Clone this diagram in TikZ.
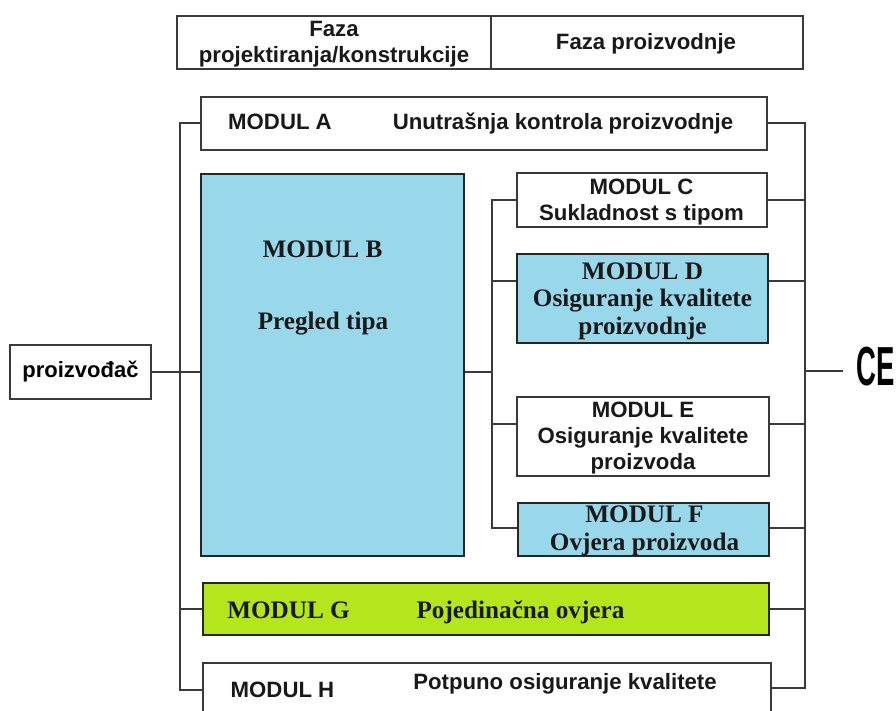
\documentclass[tikz,border=0pt]{standalone}
\usepackage{graphicx}
\usepackage{fontspec}
\setmainfont{Liberation Sans}
\newfontfamily\serifbold{Liberation Serif}[BoldFont={Liberation Serif Bold}]
\definecolor{modblue}{HTML}{99D7EA}
\definecolor{modgreen}{HTML}{B5E61D}
\definecolor{linegray}{HTML}{3A3A3A}
\begin{document}
\begin{tikzpicture}[x=1pt, y=-1pt, line width=1.2pt, draw=linegray,
  plainbox/.style={rectangle, draw=linegray, fill=white, inner sep=0pt, line width=1.2pt},
  bluebox/.style={rectangle, draw=black!85, fill=modblue, inner sep=0pt, line width=1.4pt},
  greenbox/.style={rectangle, draw=black!85, fill=modgreen, inner sep=0pt, line width=1.4pt},
  sanslabel/.style={inner sep=0pt, align=center, text=black!90, font=\fontsize{22.2}{26}\selectfont\bfseries},
  seriflabel/.style={inner sep=0pt, align=center, text=black!90, font=\fontsize{25.2}{27.5}\selectfont\serifbold\bfseries}]
\useasboundingbox (0,0) rectangle (896,711);

% header
\node (head1) [plainbox, minimum width=314pt, minimum height=53pt] at (334,42.5) {};
\node (head2) [plainbox, minimum width=312pt, minimum height=53pt] at (647,42.5) {};
\node [sanslabel] at (334,44) {Faza\\projektiranja/konstrukcije};
\node [sanslabel] at (646,44) {Faza proizvodnje};

% modules
\node (modA) [plainbox, minimum width=566pt, minimum height=53pt] at (484,123.5) {};
\node (modB) [bluebox, minimum width=263pt, minimum height=382pt] at (332.5,365) {};
\node (modC) [plainbox, minimum width=250pt, minimum height=54pt] at (642,200) {};
\node (modD) [bluebox, minimum width=251pt, minimum height=89pt, line width=1.8pt] at (642.5,298.5) {};
\node (modE) [plainbox, minimum width=252pt, minimum height=79pt] at (643,436.5) {};
\node (modF) [bluebox, minimum width=251pt, minimum height=53pt] at (643.5,529.5) {};
\node (modG) [greenbox, minimum width=566pt, minimum height=52pt] at (486,609) {};
\node (modH) [plainbox, minimum width=568pt, minimum height=60pt] at (487,693) {};
\node (maker) [plainbox, minimum width=141pt, minimum height=54pt, font=\fontsize{22}{24}\selectfont\bfseries] at (80.5,372) {\raisebox{-2pt}{proizvođač}};
\node (ce) [anchor=base west, inner sep=0pt, font=\fontsize{55}{55}\selectfont\bfseries] at (856,385) {\scalebox{0.5}[1]{CE}};

% labels
\node [sanslabel] at (280,122) {MODUL A};
\node [sanslabel] at (563,124) {Unutrašnja kontrola proizvodnje};
\node [seriflabel] at (322.5,249) {MODUL B};
\node [seriflabel] at (323,324) {Pregled tipa};
\node [sanslabel] at (641.5,202) {MODUL C\\Sukladnost s tipom};
\node [seriflabel] at (642.5,301) {MODUL D\\Osiguranje kvalitete\\proizvodnje};
\node [sanslabel] at (643,438) {MODUL E\\Osiguranje kvalitete\\proizvoda};
\node [seriflabel] at (644.5,531) {MODUL F\\Ovjera proizvoda};
\node [seriflabel] at (288.5,610) {MODUL G};
\node [seriflabel] at (520.5,612) {Pojedinačna ovjera};
\node [sanslabel] at (282.5,690) {MODUL H};
\node [sanslabel] at (565,684) {Potpuno osiguranje kvalitete};

% left rail
\coordinate (leftA) at (180,123);
\coordinate (leftH) at (180,690);
\draw (modA.west |- leftA) -- (leftA) -- (leftH) -- (modH.west |- leftH);
\draw (maker.east) -- (modB.west |- maker.east);
\draw (modG.west) -- (modG.west -| leftA);

% inner rail
\coordinate (midC) at (492,200);
\coordinate (midF) at (492,528);
\draw (modC.west) -- (midC) -- (midF) -- (modF.west |- midF);
\draw (modB.east |- maker.east) -- (maker.east -| midC);
\draw (modD.west |- 0,281) -- (midC |- 0,281);
\draw (modE.west |- 0,424) -- (midC |- 0,424);

% right rail
\coordinate (rightA) at (805,123);
\coordinate (rightH) at (805,688);
\draw (modA.east |- rightA) -- (rightA) -- (rightH) -- (modH.east |- rightH);
\draw (modC.east) -- (modC.east -| rightA);
\draw (modD.east |- 0,281) -- (rightA |- 0,281);
\draw (modE.east |- 0,424) -- (rightA |- 0,424);
\draw (modF.east |- 0,528) -- (rightA |- 0,528);
\draw (modG.east) -- (modG.east -| rightA);
\coordinate (ceEnd) at (843,371);
\draw (rightA |- ceEnd) -- (ceEnd);
\end{tikzpicture}
\end{document}
